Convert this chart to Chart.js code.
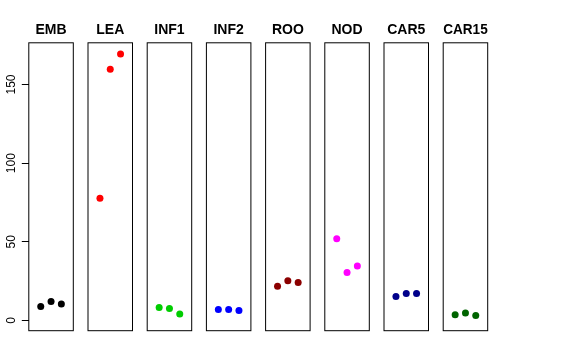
<!DOCTYPE html>
<html><head><meta charset="utf-8">
<script src="https://cdn.jsdelivr.net/npm/chart.js@4"></script>
<style>html,body{margin:0;padding:0;background:#fff}#wrap{position:relative;width:576px;height:360px;background:#fff}canvas{position:absolute;left:0;top:0}</style>
</head><body><div id="wrap"></div>
<script>
const categories = ['EMB','LEA','INF1','INF2','ROO','NOD','CAR5','CAR15'];
const xPositions = [1, 2, 3];
const EMB   = [8.9, 12.1, 10.4];
const LEA   = [77.7, 159.7, 169.4];
const INF1  = [8.2, 7.6, 4.1];
const INF2  = [7.0, 7.0, 6.3];
const ROO   = [21.8, 25.2, 24.1];
const NOD   = [52.0, 30.5, 34.7];
const CAR5  = [15.2, 17.1, 17.1];
const CAR15 = [3.6, 4.7, 3.2];
const seriesValues = [EMB, LEA, INF1, INF2, ROO, NOD, CAR5, CAR15];
const colors = ['#000000','#FF0000','#00CD00','#0000FF','#8B0000','#FF00FF','#00008B','#006400'];
const yTicks = [0, 50, 100, 150];

const W = 576, H = 360;
const panelW = 44.5, firstLeft = 28.8, pitch = 59.2;
const FONT = 'Liberation Sans, Arial, Helvetica, sans-serif';

const boxPlugin = {
  id: 'box',
  afterDraw(chart) {
    const {ctx, chartArea: a} = chart;
    ctx.save();
    ctx.strokeStyle = '#000';
    ctx.lineWidth = 1;
    ctx.strokeRect(a.left, a.top, a.right - a.left, a.bottom - a.top);
    ctx.restore();
  }
};

const wrap = document.getElementById('wrap');
categories.forEach((cat, i) => {
  const cv = document.createElement('canvas');
  cv.width = W; cv.height = H;
  cv.style.width = W + 'px'; cv.style.height = H + 'px';
  wrap.appendChild(cv);
  const left = firstLeft + i * pitch;
  const yScale = {
    type: 'linear', display: i === 0, min: -6.5, max: 176.5,
    afterBuildTicks: s => { s.ticks = yTicks.map(v => ({value: v})); },
    grid: { display: true, drawOnChartArea: false, drawTicks: true, tickLength: 7, color: '#000', lineWidth: 1 },
    border: { display: false },
    ticks: {
      minRotation: 90, maxRotation: 90, crossAlign: 'center', padding: 0,
      color: '#000', font: { family: FONT, size: 12 },
      callback: v => String(v)
    }
  };
  if (i === 0) yScale.afterFit = s => { s.width = firstLeft; };
  new Chart(cv, {
    type: 'scatter',
    data: {
      datasets: [{
        data: xPositions.map((x, k) => ({x: x, y: seriesValues[i][k]})),
        backgroundColor: colors[i],
        borderWidth: 0,
        pointRadius: 3.5,
        pointHoverRadius: 3.5
      }]
    },
    options: {
      responsive: false,
      animation: false,
      events: [],
      layout: { padding: { left: i === 0 ? 0 : left, right: W - left - panelW, top: 0, bottom: 29.3 } },
      plugins: {
        legend: { display: false },
        tooltip: { enabled: false },
        title: {
          display: true, text: cat, fullSize: false, color: '#000',
          font: { family: FONT, size: 14, weight: 'bold' },
          padding: { top: 22, bottom: 4 }
        }
      },
      scales: {
        x: { type: 'linear', display: false, min: -0.16, max: 4.16 },
        y: yScale
      }
    },
    plugins: [boxPlugin]
  });
});
</script></body></html>
